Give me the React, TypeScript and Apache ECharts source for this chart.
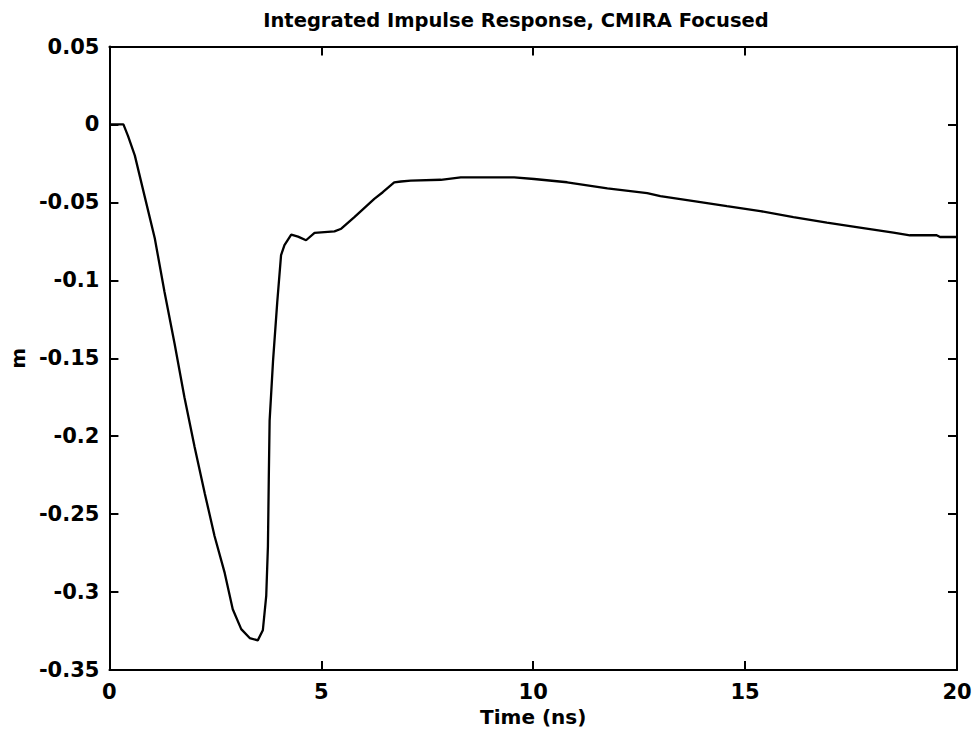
import React, { useEffect, useRef } from "react";
import * as echarts from "echarts";

const titleText = "Integrated Impulse Response, CMIRA Focused";
const xAxisName = "Time (ns)";
const yAxisName = "m";

const timeNs = [
  0, 0.2, 0.33, 0.44, 0.6, 0.83, 1.07, 1.3, 1.54, 1.77, 2.01, 2.25, 2.48, 2.72,
  2.91, 3.11, 3.31, 3.5, 3.62, 3.7, 3.74, 3.76, 3.78, 3.86, 3.96, 4.05, 4.13,
  4.29, 4.45, 4.64, 4.84, 5.31, 5.47, 5.78, 6.25, 6.45, 6.72, 6.88, 7.11, 7.82,
  8.29, 9.55, 10.02, 10.8, 11.75, 12.69, 13.0, 13.79, 14.57, 15.36, 16.14,
  16.93, 17.71, 18.5, 18.89, 19.52, 19.6, 20,
];

const response = [
  0, 0, 0, -0.0075, -0.02, -0.046, -0.073, -0.1075, -0.141, -0.175, -0.207,
  -0.2367, -0.264, -0.2877, -0.311, -0.3238, -0.3295, -0.331, -0.3245, -0.3025,
  -0.2707, -0.228, -0.19, -0.152, -0.114, -0.0839, -0.0775, -0.0707, -0.072,
  -0.0743, -0.0696, -0.0686, -0.0669, -0.0594, -0.0478, -0.0435, -0.0372,
  -0.0366, -0.0361, -0.0355, -0.034, -0.034, -0.035, -0.0371, -0.041, -0.044,
  -0.046, -0.0492, -0.0524, -0.0556, -0.0594, -0.063, -0.0662, -0.0694,
  -0.0711, -0.0711, -0.0722, -0.0722,
];

const xMin = 0;
const xMax = 20;
const xStep = 5;
const yMin = -0.35;
const yMax = 0.05;
const yStep = 0.05;

const FONT = "DejaVu Sans";

export default function App() {
  const ref = useRef<HTMLDivElement>(null);

  useEffect(() => {
    if (!ref.current) return;
    const chart = echarts.init(ref.current, undefined, { renderer: "svg" });
    const fmtY = (v: number) => String(Math.round(v * 100) / 100);
    const axisLine = { show: true, onZero: false, lineStyle: { color: "#000", width: 2 } };
    const axisTick = { show: true, inside: true, length: 9, lineStyle: { color: "#000", width: 2 } };
    const labelStyle = { color: "#000", fontFamily: FONT, fontWeight: "bold" as const, fontSize: 21 };

    chart.setOption({
      animation: false,
      backgroundColor: "#fff",
      grid: { left: 107, right: 20, top: 46.5, bottom: 71, containLabel: false },
      graphic: [
        {
          type: "text",
          x: 516,
          y: 20,
          style: {
            text: titleText,
            fill: "#000",
            font: `bold 19.5px "${FONT}"`,
            textAlign: "center",
            textVerticalAlign: "middle",
          },
        },
      ],
      xAxis: [
        {
          type: "value",
          min: xMin,
          max: xMax,
          interval: xStep,
          position: "bottom",
          axisLine,
          axisTick,
          splitLine: { show: false },
          axisLabel: { ...labelStyle, margin: 11 },
          name: xAxisName,
          nameLocation: "middle",
          nameGap: 36,
          nameTextStyle: { color: "#000", fontFamily: FONT, fontWeight: "bold", fontSize: 20 },
        },
        {
          type: "value",
          min: xMin,
          max: xMax,
          interval: xStep,
          position: "top",
          axisLine,
          axisTick,
          splitLine: { show: false },
          axisLabel: { show: false },
        },
      ],
      yAxis: [
        {
          type: "value",
          min: yMin,
          max: yMax,
          interval: yStep,
          position: "left",
          axisLine,
          axisTick,
          splitLine: { show: false },
          axisLabel: { ...labelStyle, margin: 10, formatter: fmtY },
          name: yAxisName,
          nameLocation: "middle",
          nameGap: 80,
          nameRotate: 90,
          nameTextStyle: { color: "#000", fontFamily: FONT, fontWeight: "bold", fontSize: 20 },
        },
        {
          type: "value",
          min: yMin,
          max: yMax,
          interval: yStep,
          position: "right",
          axisLine,
          axisTick,
          splitLine: { show: false },
          axisLabel: { show: false },
        },
      ],
      series: [
        {
          type: "line",
          xAxisIndex: 0,
          yAxisIndex: 0,
          data: timeNs.map((t, i) => [t, response[i]]),
          showSymbol: false,
          symbol: "none",
          smooth: false,
          lineStyle: { color: "#000", width: 2.3 },
          clip: true,
        },
      ],
    });
    return () => chart.dispose();
  }, []);

  return <div ref={ref} style={{ width: 977, height: 741, position: "absolute", left: 0, top: 0 }} />;
}
